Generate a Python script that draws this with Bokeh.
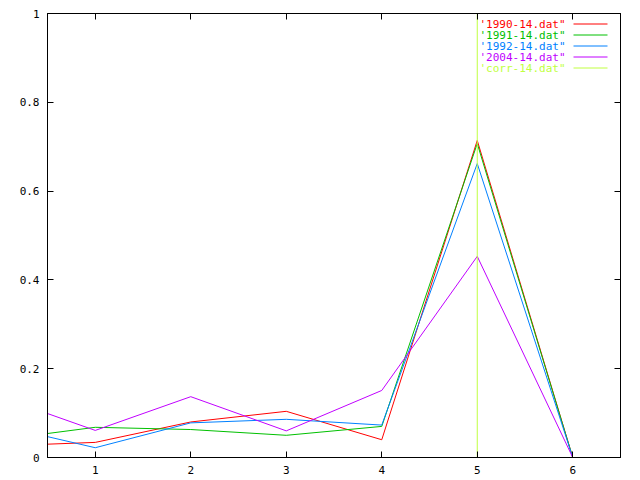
from bokeh.plotting import figure
from bokeh.models import (Range1d, FixedTicker, LinearAxis, CustomJSTickFormatter,
                          Label, Arrow)
from bokeh.embed import file_html
from bokeh.resources import INLINE

x_vals = [0.5, 1, 2, 3, 4, 5, 6]
s1990 = [0.030, 0.034, 0.080, 0.104, 0.040, 0.714, 0.0]
s1991 = [0.054, 0.068, 0.063, 0.050, 0.070, 0.707, 0.0]
s1992 = [0.047, 0.022, 0.078, 0.086, 0.073, 0.662, 0.0]
s2004 = [0.099, 0.061, 0.137, 0.060, 0.151, 0.453, 0.0]
corr_x = [5, 5]
corr_y = [0, 1]

names = ["'1990-14.dat\"", "'1991-14.dat\"", "'1992-14.dat\"", "'2004-14.dat\"", "'corr-14.dat\""]
colors = ["#ff0000", "#00c000", "#0080ff", "#c000ff", "#c0ff40"]
x_ticks = [1, 2, 3, 4, 5, 6]
y_ticks = [0, 0.2, 0.4, 0.6, 0.8, 1]

FONT = "DejaVu Sans Mono"
FS = "11px"

p = figure(width=640, height=480, output_backend="svg", toolbar_location=None,
           x_range=Range1d(0.5, 6.5), y_range=Range1d(0, 1),
           min_border_left=47, min_border_right=20, min_border_top=13, min_border_bottom=23,
           x_axis_location=None, y_axis_location=None)
p.grid.visible = False
p.outline_line_color = "black"
p.outline_line_width = 1
p.background_fill_color = "white"
p.border_fill_color = "white"

fmt = CustomJSTickFormatter(code="return String(Math.round(tick*10)/10);")
blank = CustomJSTickFormatter(code="return '';")

def make_axis(ticks, show_labels):
    ax = LinearAxis(ticker=FixedTicker(ticks=ticks), formatter=fmt if show_labels else blank)
    ax.major_tick_in = 6
    ax.major_tick_out = 0
    ax.minor_tick_line_color = None
    ax.axis_line_color = "black"
    ax.major_tick_line_color = "black"
    ax.major_label_text_font = FONT
    ax.major_label_text_font_size = FS
    ax.major_label_text_color = "black"
    ax.major_label_standoff = 8 if show_labels else 0
    return ax

bx = make_axis(x_ticks, True)
bx.major_label_standoff = 8
p.add_layout(bx, "below")
p.add_layout(make_axis(y_ticks, True), "left")
p.add_layout(make_axis(x_ticks, False), "above")
p.add_layout(make_axis(y_ticks, False), "right")

series = [s1990, s1991, s1992, s2004]
for s, c in zip(series, colors[:4]):
    p.line(x_vals, s, line_color=c, line_width=1)
p.line(corr_x, corr_y, line_color=colors[4], line_width=1)

# legend (gnuplot-style, top right, text coloured)
text_right = 518
line_x0, line_x1 = 526, 560
row0 = 433.5
row_step = 11
for i, (nm, c) in enumerate(zip(names, colors)):
    y = row0 - i * row_step
    p.add_layout(Label(x=text_right, y=y, x_units="screen", y_units="screen", text=nm,
                       text_align="right", text_baseline="middle", text_color=c,
                       text_font=FONT, text_font_size=FS))
    p.add_layout(Arrow(end=None, x_start=line_x0, y_start=y, x_end=line_x1, y_end=y,
                       start_units="screen", end_units="screen", line_color=c, line_width=1))

open("out.html", "w").write(file_html(p, INLINE))
